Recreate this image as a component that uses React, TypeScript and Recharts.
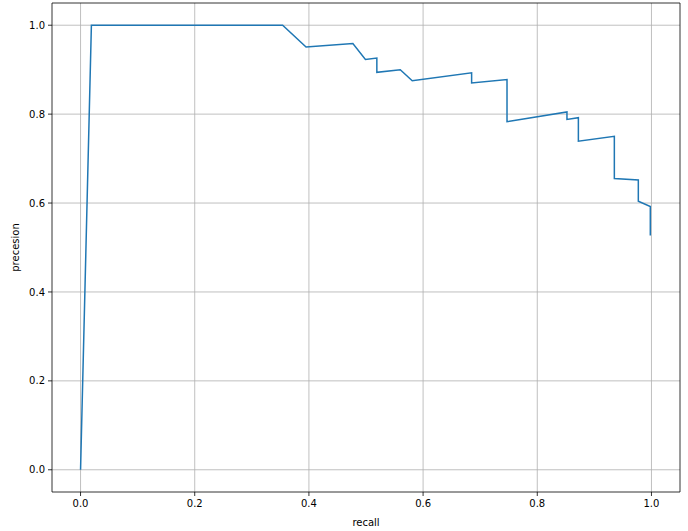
import {
  CartesianGrid,
  Label,
  Line,
  LineChart,
  ReferenceArea,
  XAxis,
  YAxis,
} from "recharts"

// precision-recall curve points
const recall = [
  0, 0.019, 0.354, 0.395, 0.477, 0.499, 0.519, 0.519, 0.56, 0.581, 0.685, 0.685,
  0.747, 0.747, 0.852, 0.852, 0.872, 0.872, 0.935, 0.935, 0.977, 0.977, 0.998, 0.998,
]
const precision = [
  0, 1.0, 1.0, 0.951, 0.959, 0.923, 0.926, 0.894, 0.9, 0.875, 0.893, 0.87,
  0.878, 0.783, 0.805, 0.788, 0.792, 0.739, 0.75, 0.655, 0.652, 0.604, 0.592, 0.527,
]
const ticks = [0, 0.2, 0.4, 0.6, 0.8, 1.0]

const data = recall.map((r, i) => ({ recall: r, precision: precision[i] }))

const font = "'DejaVu Sans', sans-serif"
const tickStyle = { fill: "#000", fontSize: 10, fontFamily: font }

function YLabel({ viewBox }: { viewBox?: { x: number; y: number; width: number; height: number } }) {
  if (!viewBox) return null
  const x = viewBox.x + 15
  const y = viewBox.y + viewBox.height / 2
  return (
    <text
      x={x}
      y={y}
      transform={`rotate(-90 ${x} ${y})`}
      textAnchor="middle"
      dominantBaseline="central"
      fontSize={10}
      fontFamily={font}
      fill="#000"
    >
      precesion
    </text>
  )
}

export default function App() {
  return (
    <div style={{ position: "absolute", left: 0, top: 0, background: "#fff" }}>
      <LineChart
        width={688}
        height={531}
        data={data}
        margin={{ top: 3, right: 8, left: 0, bottom: 0 }}
      >
        <CartesianGrid stroke="#b0b0b0" strokeWidth={0.8} horizontalValues={ticks} verticalValues={ticks} />
        <XAxis
          dataKey="recall"
          type="number"
          domain={[-0.05, 1.05]}
          ticks={ticks}
          tickFormatter={(v) => v.toFixed(1)}
          tick={tickStyle}
          tickSize={4}
          tickMargin={4}
          tickLine={{ stroke: "#000", strokeWidth: 0.8 }}
          axisLine={false}
          height={39}
          allowDataOverflow
        >
          <Label
            value="recall"
            position="insideBottom"
            offset={5}
            style={{ fontSize: 10, fontFamily: font, fill: "#000" }}
          />
        </XAxis>
        <YAxis
          dataKey="precision"
          type="number"
          domain={[-0.05, 1.05]}
          ticks={ticks}
          tickFormatter={(v) => v.toFixed(1)}
          tick={tickStyle}
          tickSize={4}
          tickMargin={3}
          tickLine={{ stroke: "#000", strokeWidth: 0.8 }}
          axisLine={false}
          width={52}
          allowDataOverflow
        >
          <Label content={<YLabel />} />
        </YAxis>
        <ReferenceArea
          x1={-0.05}
          x2={1.05}
          y1={-0.05}
          y2={1.05}
          fill="none"
          fillOpacity={0}
          stroke="#000"
          strokeWidth={0.8}
          strokeOpacity={1}
        />
        <Line
          dataKey="precision"
          type="linear"
          stroke="#1f77b4"
          strokeWidth={1.5}
          dot={false}
          isAnimationActive={false}
        />
      </LineChart>
    </div>
  )
}
